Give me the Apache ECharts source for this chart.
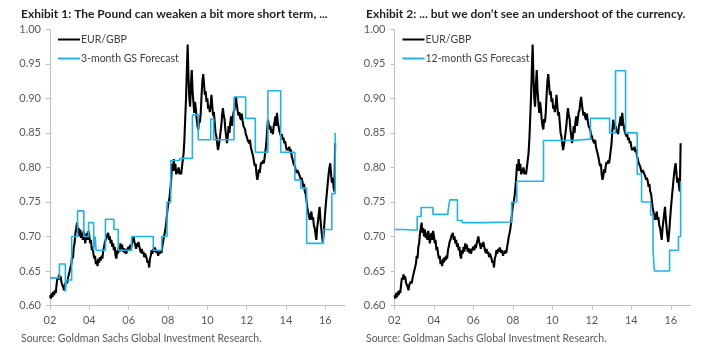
<!DOCTYPE html>
<html><head><meta charset="utf-8">
<script src="https://cdn.jsdelivr.net/npm/echarts@6/dist/echarts.min.js"></script>
<style>html,body{margin:0;padding:0;background:#fff}#c{width:719px;height:357px}</style>
</head><body><div id="c"></div>
<script>
// EUR/GBP, semi-monthly readings (24 per year)
const fx2002 = [0.615,0.610,0.618,0.612,0.620,0.615,0.622,0.618,0.630,0.640,0.637,0.645,0.638,0.642,0.633,0.630,0.627,0.622,0.630,0.628,0.635,0.632,0.640,0.645];
const fx2003 = [0.650,0.655,0.660,0.672,0.668,0.685,0.690,0.705,0.712,0.720,0.705,0.712,0.700,0.710,0.698,0.705,0.695,0.708,0.700,0.690,0.700,0.705,0.695,0.708];
const fx2004 = [0.700,0.690,0.695,0.680,0.685,0.675,0.668,0.672,0.660,0.665,0.657,0.668,0.662,0.670,0.665,0.672,0.668,0.680,0.685,0.692,0.695,0.700,0.698,0.705];
const fx2005 = [0.695,0.700,0.690,0.695,0.685,0.690,0.680,0.685,0.672,0.668,0.680,0.675,0.685,0.678,0.690,0.682,0.688,0.678,0.683,0.676,0.682,0.675,0.680,0.678];
const fx2006 = [0.685,0.680,0.688,0.683,0.690,0.695,0.700,0.692,0.688,0.682,0.690,0.685,0.692,0.686,0.680,0.676,0.682,0.675,0.678,0.670,0.675,0.672,0.668,0.662];
const fx2007 = [0.665,0.655,0.668,0.672,0.680,0.675,0.682,0.678,0.684,0.680,0.676,0.680,0.672,0.678,0.675,0.680,0.676,0.685,0.692,0.700,0.705,0.712,0.722,0.735];
const fx2008 = [0.745,0.750,0.758,0.770,0.785,0.805,0.795,0.812,0.795,0.805,0.790,0.798,0.792,0.800,0.790,0.795,0.790,0.800,0.810,0.820,0.840,0.870,0.900,0.940];
const fx2009 = [0.978,0.930,0.900,0.888,0.920,0.941,0.910,0.895,0.879,0.895,0.885,0.870,0.860,0.855,0.870,0.865,0.880,0.905,0.925,0.935,0.920,0.905,0.910,0.895];
const fx2010 = [0.900,0.885,0.890,0.880,0.890,0.905,0.890,0.875,0.880,0.865,0.850,0.845,0.835,0.825,0.832,0.840,0.850,0.860,0.875,0.886,0.875,0.870,0.855,0.845];
const fx2011 = [0.835,0.845,0.860,0.850,0.865,0.874,0.860,0.870,0.880,0.883,0.895,0.902,0.890,0.882,0.875,0.880,0.872,0.869,0.878,0.868,0.860,0.862,0.855,0.848];
const fx2012 = [0.845,0.840,0.838,0.835,0.840,0.830,0.825,0.820,0.815,0.808,0.802,0.805,0.790,0.782,0.788,0.797,0.792,0.803,0.808,0.805,0.810,0.806,0.815,0.825];
const fx2013 = [0.835,0.854,0.869,0.862,0.855,0.860,0.850,0.855,0.848,0.860,0.865,0.874,0.860,0.879,0.865,0.859,0.852,0.850,0.845,0.848,0.840,0.843,0.835,0.838];
const fx2014 = [0.830,0.825,0.828,0.825,0.830,0.822,0.826,0.816,0.812,0.806,0.808,0.801,0.795,0.792,0.796,0.794,0.790,0.787,0.782,0.785,0.780,0.772,0.776,0.765];
const fx2015 = [0.762,0.752,0.742,0.735,0.730,0.724,0.731,0.736,0.724,0.728,0.716,0.712,0.704,0.695,0.712,0.722,0.733,0.743,0.725,0.712,0.700,0.692,0.705,0.722];
const fx2016 = [0.738,0.752,0.765,0.778,0.790,0.800,0.806,0.790,0.778,0.785,0.772,0.765,0.835];
const fxYears = [2002,2003,2004,2005,2006,2007,2008,2009,2010,2011,2012,2013,2014,2015,2016];
const fxValues = [fx2002,fx2003,fx2004,fx2005,fx2006,fx2007,fx2008,fx2009,fx2010,fx2011,fx2012,fx2013,fx2014,fx2015,fx2016];
const pointsPerYear = 24;

// GS forecasts: [start of period (year), forecast level]
const fc3m = [[2002.0,0.64],[2002.48,0.66],[2002.78,0.62],[2002.84,0.637],[2003.1,0.70],[2003.4,0.737],[2003.72,0.70],[2003.96,0.72],[2004.22,0.68],[2004.3,0.70],[2004.34,0.68],[2004.82,0.725],[2005.25,0.71],[2005.47,0.68],[2006.15,0.70],[2007.25,0.68],[2007.68,0.70],[2007.95,0.75],[2008.14,0.81],[2008.6,0.813],[2009.24,0.876],[2009.54,0.84],[2010.17,0.87],[2010.32,0.84],[2011.36,0.902],[2011.95,0.871],[2012.44,0.822],[2013.08,0.911],[2013.73,0.822],[2014.45,0.782],[2014.75,0.77],[2015.05,0.69],[2015.9,0.71],[2016.33,0.762],[2016.5,0.85]];
const fc12m = [[2002.0,0.71],[2002.45,0.711],[2002.55,0.709],[2003.15,0.729],[2003.35,0.742],[2003.95,0.732],[2004.71,0.736],[2004.8,0.753],[2005.19,0.723],[2005.43,0.72],[2006.5,0.721],[2007.94,0.75],[2008.2,0.78],[2009.55,0.839],[2011.0,0.841],[2011.93,0.871],[2012.9,0.85],[2013.2,0.94],[2013.71,0.85],[2014.3,0.79],[2014.52,0.75],[2014.98,0.731],[2015.1,0.68],[2015.17,0.65],[2015.94,0.68],[2016.39,0.70],[2016.5,0.78]];

const xTicks = [2002,2004,2006,2008,2010,2012,2014,2016];
const titles = ['Exhibit 1: The Pound can weaken a bit more short term, ...','Exhibit 2: ... but we don\u2019t see an undershoot of the currency.'];
const fxName = 'EUR/GBP';
const fcNames = ['3-month GS Forecast','12-month GS Forecast'];
const sourceText = 'Source: Goldman Sachs Global Investment Research.';

const fxData = [];
fxYears.forEach((y, k) => fxValues[k].forEach((v, i) => fxData.push([y + i / pointsPerYear, v])));

const FONT = 'Lato';
const LBL = '#595959', AX = '#bfbfbf', BLUE = '#1fb3ec';
const grids = [{left: 50, top: 29.3, width: 295, height: 276.2}, {left: 394.5, top: 29.3, width: 296, height: 276.2}];
const titleLeft = [21, 366];

function xAx(i){return {type:'value', gridIndex:i, min:2002, max:2017,
  axisLine:{lineStyle:{color:AX, width:1}},
  axisTick:{customValues:xTicks, length:4, lineStyle:{color:AX}},
  axisLabel:{customValues:xTicks, formatter:v=>String(Math.round(v)).slice(2), color:LBL, fontFamily:FONT, fontSize:11, margin:9},
  splitLine:{show:false}};}
function yAx(i){return {type:'value', gridIndex:i, min:0.6, max:1.0, interval:0.05,
  axisLine:{show:true, lineStyle:{color:AX, width:1}},
  axisTick:{show:true, length:4, lineStyle:{color:AX}},
  axisLabel:{formatter:v=>v.toFixed(2), color:LBL, fontFamily:FONT, fontSize:11, margin:9},
  splitLine:{show:false}};}

const chart = echarts.init(document.getElementById('c'), null, {renderer:'canvas'});
chart.setOption({
  animation:false,
  backgroundColor:'#fff',
  title:[0,1].map(i=>({text:titles[i], left:titleLeft[i], top:8, padding:0,
    textStyle:{fontFamily:FONT, fontSize:12, fontWeight:'bold', color:'#1f1f1f'}})),
  legend:[0,1].map(i=>({data:[fxName, fcNames[i]], orient:'vertical', left:grids[i].left+8, top:34,
    icon:'rect', itemWidth:22, itemHeight:2, itemGap:8, padding:0, selectedMode:false,
    textStyle:{fontFamily:FONT, fontSize:10.5, color:'#404040', padding:[0,0,0,-4]}})),
  grid:grids,
  xAxis:[xAx(0), xAx(1)],
  yAxis:[yAx(0), yAx(1)],
  series:[
    {name:fxName, type:'line', xAxisIndex:0, yAxisIndex:0, data:fxData, showSymbol:false, lineStyle:{color:'#000', width:2.1}, itemStyle:{color:'#000'}},
    {name:fcNames[0], type:'line', xAxisIndex:0, yAxisIndex:0, data:fc3m, step:'end', showSymbol:false, lineStyle:{color:BLUE, width:1.6}, itemStyle:{color:BLUE}},
    {name:fxName, type:'line', xAxisIndex:1, yAxisIndex:1, data:fxData, showSymbol:false, lineStyle:{color:'#000', width:2.1}, itemStyle:{color:'#000'}},
    {name:fcNames[1], type:'line', xAxisIndex:1, yAxisIndex:1, data:fc12m, step:'end', showSymbol:false, lineStyle:{color:BLUE, width:1.6}, itemStyle:{color:BLUE}}
  ],
  graphic:[0,1].map(i=>({type:'text', left:titleLeft[i], top:333,
    style:{text:sourceText, fill:LBL, font:'10.5px '+FONT}}))
});
</script>
</body></html>
